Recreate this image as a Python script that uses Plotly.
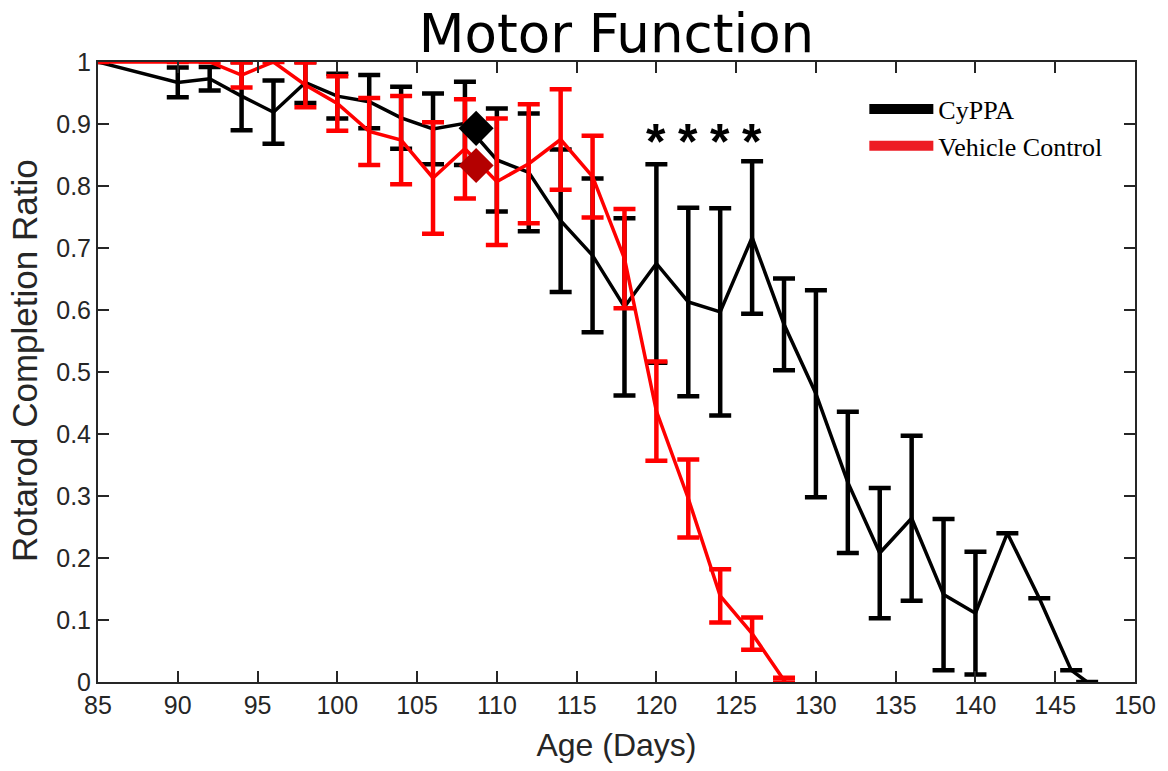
import plotly.graph_objects as go

# Age in days at each rotarod session
cyppa_days = [85, 90, 92, 94, 96, 98, 100, 102, 104, 106, 108, 110, 112, 114, 116,
              118, 120, 122, 124, 126, 128, 130, 132, 134, 136, 138, 140, 142, 144, 146, 147]
cyppa_ratio = [1.0, 0.967, 0.973, 0.945, 0.919, 0.967, 0.945, 0.936, 0.910, 0.892, 0.901,
               0.842, 0.822, 0.744, 0.688, 0.605, 0.675, 0.613, 0.597, 0.717, 0.577,
               0.465, 0.322, 0.208, 0.264, 0.141, 0.111, 0.240, 0.135, 0.019, 0.0]
cyppa_err = [None, 0.024, 0.019, 0.055, 0.051, 0.033, 0.036, 0.043, 0.050, 0.057, 0.067,
             0.083, 0.095, 0.115, 0.124, 0.143, 0.160, 0.152, 0.167, 0.123, 0.074,
             0.167, 0.114, 0.105, 0.133, 0.122, 0.099, 0.0, 0.0, 0.0, 0.0]

vehicle_days = [85, 90, 92, 94, 96, 98, 100, 102, 104, 106, 108, 110, 112, 114, 116,
                118, 120, 122, 124, 126, 128]
vehicle_ratio = [1.0, 1.0, 1.0, 0.979, 1.0, 0.963, 0.933, 0.888, 0.874, 0.813, 0.860,
                 0.807, 0.836, 0.875, 0.815, 0.683, 0.437, 0.296, 0.139, 0.078, 0.003]
vehicle_err = [None, 0.0, 0.0, 0.020, 0.0, 0.036, 0.044, 0.054, 0.071, 0.090, 0.080,
               0.102, 0.096, 0.081, 0.066, 0.080, 0.080, 0.063, 0.043, 0.026, 0.004]

# Summary markers (diamonds) for each group
summary_day = [108.7, 108.7]
summary_ratio = [0.893, 0.833]
summary_colors = ["#000000", "#B40000"]

# Sessions with significant group differences
sig_days = [120, 122, 124, 126]
sig_level = 0.882

AXIS_GREY = "#262626"
TICK_FONT = dict(family="Liberation Sans Narrow, Arial Narrow, Liberation Sans, Arial", size=25, color=AXIS_GREY)
XLABEL_FONT = dict(family="Liberation Sans, Arial", size=32, color=AXIS_GREY)
YLABEL_FONT = dict(family="Liberation Sans, Arial", size=35, color=AXIS_GREY)

fig = go.Figure()

fig.add_trace(go.Scatter(
    x=cyppa_days, y=cyppa_ratio, mode="lines",
    line=dict(color="#000000", width=3.5),
    error_y=dict(type="data", array=cyppa_err, visible=True,
                 color="#000000", thickness=4.5, width=11),
    showlegend=False, hoverinfo="x+y",
))

fig.add_trace(go.Scatter(
    x=vehicle_days, y=vehicle_ratio, mode="lines",
    line=dict(color="#FF0000", width=3.5),
    error_y=dict(type="data", array=vehicle_err, visible=True,
                 color="#FF0000", thickness=4.5, width=11),
    showlegend=False, hoverinfo="x+y",
))

fig.add_trace(go.Scatter(
    x=summary_day, y=summary_ratio, mode="markers",
    marker=dict(symbol="diamond", size=27, color=summary_colors),
    showlegend=False, hoverinfo="x+y",
))

# Legend entries drawn as thick bars
fig.add_trace(go.Scatter(x=[None], y=[None], mode="lines", name="CyPPA",
                         line=dict(color="#000000", width=10)))
fig.add_trace(go.Scatter(x=[None], y=[None], mode="lines", name="Vehicle Control",
                         line=dict(color="#ED1C24", width=10)))

for d in sig_days:
    fig.add_annotation(x=d, y=sig_level, text="<b>*</b>", showarrow=False,
                       font=dict(family="Liberation Sans, Arial", size=50, color="#000000"),
                       xanchor="center", yanchor="middle", yshift=-7)

# Y-axis title, placed slightly above the axis midpoint
fig.add_annotation(text="Rotarod Completion Ratio", textangle=-90, showarrow=False,
                   xref="paper", yref="paper", x=-0.0702, y=0.518,
                   xanchor="center", yanchor="middle", font=YLABEL_FONT)

axis_common = dict(
    showline=True, linecolor=AXIS_GREY, linewidth=2, mirror="ticks",
    ticks="inside", ticklen=11, tickwidth=1.5, tickcolor=AXIS_GREY,
    showgrid=False, zeroline=False, tickfont=TICK_FONT,
)

fig.update_xaxes(range=[85, 150], tick0=85, dtick=5,
                 title=dict(text="Age (Days)", font=XLABEL_FONT, standoff=16),
                 **axis_common)
fig.update_yaxes(range=[0, 1], tick0=0, dtick=0.1, tickformat="~g",
                 **axis_common)

fig.update_layout(
    width=1168, height=771,
    margin=dict(l=98, r=30, t=62, b=89),
    paper_bgcolor="white", plot_bgcolor="white",
    title=dict(text="Motor Function", x=0.5, xref="paper", xanchor="center",
               y=0.9567, yref="container", yanchor="middle",
               font=dict(family="DejaVu Sans", size=53, color="#000000")),
    legend=dict(x=0.739, y=0.962, xanchor="left", yanchor="top",
                bgcolor="rgba(0,0,0,0)", borderwidth=0, itemwidth=64,
                font=dict(family="Liberation Serif, DejaVu Serif, serif", size=26, color="#000000"),
                tracegroupgap=0),
)

fig.write_html("out.html")
